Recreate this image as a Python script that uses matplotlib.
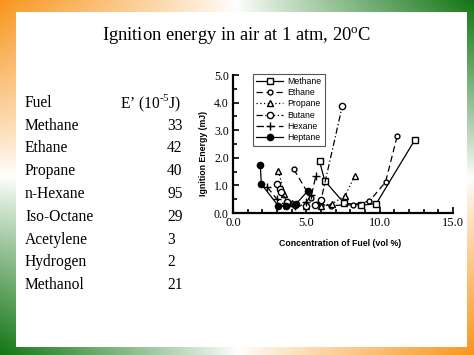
import numpy as np
import matplotlib.pyplot as plt
from matplotlib.patches import Rectangle

plt.rcParams['mathtext.fontset'] = 'custom'
plt.rcParams['mathtext.rm'] = 'Liberation Serif'

W, H = 474, 355

# table data on the left
fuels = ['Methane', 'Ethane', 'Propane', 'n-Hexane', 'Iso-Octane', 'Acetylene', 'Hydrogen', 'Methanol']
energies = ['33', '42', '40', '95', '29', '3', '2', '21']

# curves (vol %, mJ)
methane_x = [5.9, 6.25, 7.57, 8.75, 9.77, 12.4]
methane_y = [1.88, 1.17, 0.36, 0.28, 0.34, 2.65]
ethane_x = [4.15, 5.3, 6.0, 6.7, 8.2, 9.3, 10.4, 11.2]
ethane_y = [1.58, 0.55, 0.3, 0.27, 0.3, 0.43, 1.12, 2.8]
propane_x = [3.1, 3.5, 4.0, 5.0, 6.0, 6.75, 7.65, 8.3]
propane_y = [1.52, 0.7, 0.35, 0.25, 0.27, 0.33, 0.63, 1.35]
butane_x = [3.0, 3.2, 3.3, 3.7, 4.2, 5.0, 5.6, 6.0, 7.45]
butane_y = [1.04, 0.86, 0.76, 0.4, 0.28, 0.24, 0.28, 0.47, 3.87]
hexane_x = [2.3, 3.0, 3.5, 4.2, 5.0, 5.35, 5.65]
hexane_y = [0.96, 0.5, 0.3, 0.27, 0.4, 0.65, 1.35]
heptane_x = [1.86, 1.93, 3.07, 3.63, 4.3, 5.12]
heptane_y = [1.75, 1.05, 0.27, 0.25, 0.33, 0.81]

fig = plt.figure(figsize=(W / 100, H / 100), dpi=100)

# tricolour frame: orange top-left/bottom-right, green the other corners
u = np.linspace(-1, 1, 200)[None, :]
v = np.linspace(-1, 1, 150)[:, None]
s = u * v
orange = np.array([248, 150, 30]) / 255
green = np.array([18, 118, 20]) / 255
white = np.ones(3)
w = np.abs(s)[..., None] ** 0.9
img = np.where(s[..., None] > 0, white + (orange - white) * w, white + (green - white) * w)
bg = fig.add_axes([0, 0, 1, 1])
bg.imshow(img, extent=[0, 1, 0, 1], aspect='auto', origin='upper')
bg.add_patch(Rectangle((16 / W, 1 - 347 / H), (467 - 16) / W, (347 - 12) / H,
                       facecolor='white', edgecolor='none'))
bg.set_xlim(0, 1)
bg.set_ylim(0, 1)
bg.axis('off')

def put(x, y, txt, **kw):
    fig.text(x / W, 1 - y / H, txt, family='Liberation Serif', va='center', **kw)

put(237, 36, r'Ignition energy in air at 1 atm, 20$^{\mathrm{o}}$C', fontsize=13.3, ha='center')
put(25, 103, 'Fuel', fontsize=11.2)
put(120, 103, r'E’ (10$^{\text{-5}}$J)', fontsize=11.2)
for i, (f, e) in enumerate(zip(fuels, energies)):
    y = 125.5 + i * 22.8
    put(25, y, f, fontsize=11.2)
    put(167, y, e, fontsize=11.2)

ax = fig.add_axes([233 / W, 1 - 213 / H, 220 / W, 138 / H])
ax.plot(methane_x, methane_y, '-', color='k', lw=0.9, marker='s', ms=5, mfc='white', mec='k', label='Methane')
ax.plot(ethane_x, ethane_y, color='k', lw=0.9, ls=(0, (5, 3)), marker='o', ms=3.5, mfc='white', mec='k', label='Ethane')
ax.plot(propane_x, propane_y, color='k', lw=0.9, ls=(0, (1, 2)), marker='^', ms=4.5, mfc='white', mec='k', label='Propane')
ax.plot(butane_x, butane_y, color='k', lw=0.9, ls=(0, (5, 2, 1, 2)), marker='o', ms=4.5, mfc='white', mec='k', label='Butane')
ax.plot(hexane_x, hexane_y, color='k', lw=0.9, ls=(0, (6, 3)), marker='+', ms=5.5, mec='k', label='Hexane')
ax.plot(heptane_x, heptane_y, '-', color='k', lw=0.9, marker='o', ms=4.5, mfc='k', mec='k', label='Heptane')

ax.set_xlim(0, 15)
ax.set_ylim(0, 5)
ax.set_xticks([0, 5, 10, 15])
ax.set_xticks(np.arange(0, 16, 1), minor=True)
ax.set_yticks(np.arange(0, 5.1, 1))
ax.set_yticks(np.arange(0, 5.1, 0.5), minor=True)
ax.set_xticklabels(['0.0', '5.0', '10.0', '15.0'], family='Liberation Serif', fontsize=9)
ax.set_yticklabels(['0.0', '1.0', '2.0', '3.0', '4.0', '5.0'], family='Liberation Serif', fontsize=8.5)
ax.tick_params(which='both', direction='in', width=1.2)
ax.tick_params(which='major', length=4, pad=3)
ax.tick_params(which='minor', length=3)
for side in ['top', 'right']:
    ax.spines[side].set_visible(False)
for side in ['left', 'bottom']:
    ax.spines[side].set_linewidth(1.6)
ax.set_facecolor('none')

ax.set_xlabel('Concentration of Fuel (vol %)', family='Liberation Sans', fontweight='bold', fontsize=6.3)
ax.set_ylabel('Ignition Energy (mJ)', family='Liberation Sans', fontweight='bold', fontsize=6.3)
ax.xaxis.set_label_coords(0.486, -0.188)
ax.yaxis.set_label_coords(-0.115, 0.43)

leg = ax.legend(loc='upper left', bbox_to_anchor=(0.09, 1.01), borderaxespad=0,
                prop={'family': 'Liberation Sans', 'size': 6.3}, handlelength=3.1,
                labelspacing=0.25, fancybox=False, framealpha=1, edgecolor='#555555',
                borderpad=0.4, handletextpad=0.4)
leg.get_frame().set_linewidth(0.8)

fig.savefig('out.png', dpi=100)
